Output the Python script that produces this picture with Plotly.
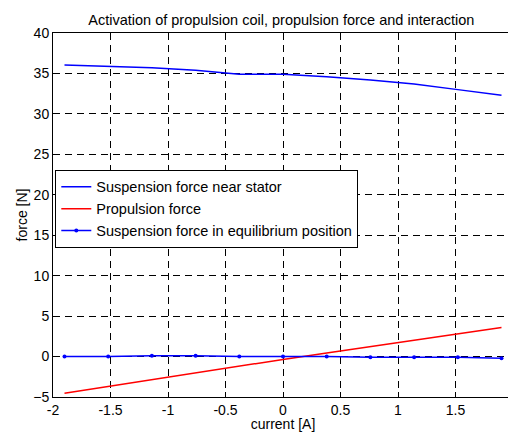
import plotly.graph_objects as go

current = [-1.9, -1.52, -1.14, -0.76, -0.38, 0.0, 0.38, 0.76, 1.14, 1.52, 1.9]
susp_near_stator = [36.05, 35.9, 35.7, 35.4, 34.9, 34.9, 34.6, 34.2, 33.7, 33.0, 32.3]
propulsion = [-4.55, -3.7, -2.87, -2.05, -1.2, -0.35, 0.45, 1.25, 2.05, 2.85, 3.6]
susp_equilibrium = [0.0, 0.0, 0.1, 0.1, 0.0, 0.0, 0.0, -0.1, -0.1, -0.1, -0.2]

x_ticks = [-2, -1.5, -1, -0.5, 0, 0.5, 1, 1.5, 2]
x_tick_labels = ["-2", "-1.5", "-1", "-0.5", "0", "0.5", "1", "1.5", "2"]
y_ticks = [-5, 0, 5, 10, 15, 20, 25, 30, 35, 40]

FONT = "Liberation Sans, Arial, sans-serif"

fig = go.Figure()
fig.add_trace(go.Scatter(x=current, y=susp_near_stator, mode="lines",
                         name="Suspension force near stator",
                         line=dict(color="#0000ff", width=1.5)))
fig.add_trace(go.Scatter(x=current, y=propulsion, mode="lines",
                         name="Propulsion force",
                         line=dict(color="#ff0000", width=1.5)))
fig.add_trace(go.Scatter(x=current, y=susp_equilibrium, mode="lines+markers",
                         name="Suspension force in equilibrium position",
                         line=dict(color="#0000ff", width=1.5),
                         marker=dict(color="#0000ff", size=4)))

axis_common = dict(
    showline=True, linecolor="black", linewidth=1, mirror="ticks",
    ticks="inside", ticklen=5, tickcolor="black",
    showgrid=True, gridcolor="black", gridwidth=0.8, griddash="7px,5px",
    zeroline=False, automargin=False, ticklabeloverflow="allow",
    tickfont=dict(family=FONT, size=14, color="black"),
)

fig.update_xaxes(range=[-2, 2], tickvals=x_ticks, ticktext=x_tick_labels,
                 title=dict(text="current [A]", standoff=6,
                            font=dict(family=FONT, size=14, color="black")),
                 **axis_common)
fig.update_yaxes(range=[-5, 40], tickvals=y_ticks,
                 title=dict(text="force [N]", standoff=2,
                            font=dict(family=FONT, size=14, color="black")),
                 **axis_common)

# The page body has an 8px default margin, so the figure is sized and
# offset to compensate.
fig.update_layout(
    width=508, height=424,
    margin=dict(l=45, r=3, t=25, b=35, autoexpand=False),
    paper_bgcolor="white", plot_bgcolor="white",
    title=dict(text="Activation of propulsion coil, propulsion force and interaction",
               x=0.538, xanchor="center", y=0.985, yanchor="top", automargin=False,
               font=dict(family=FONT, size=14.5, color="black")),
    legend=dict(x=0.005, y=0.624, xanchor="left", yanchor="top",
                bgcolor="white", bordercolor="black", borderwidth=1,
                font=dict(family=FONT, size=14.5, color="black"),
                tracegroupgap=0, itemwidth=30),
    showlegend=True,
)

fig.write_html("out.html")
